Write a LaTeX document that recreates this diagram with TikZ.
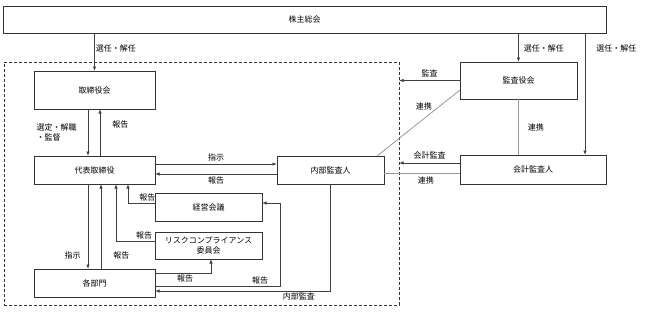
\documentclass[tikz,border=0pt]{standalone}
\usepackage{fontspec}
\setmainfont{Noto Sans CJK JP}
\usepackage{tikz}
\usetikzlibrary{arrows.meta, positioning}

\begin{document}
\begin{tikzpicture}[x=1pt, y=-1pt,
  font=\fontsize{8}{10}\selectfont,
  box/.style={rectangle, draw=black!80, line width=0.8pt, outer sep=0pt,
              text centered, align=center},
  arrow/.style={-{Latex[length=4.5pt,width=3.5pt]}, draw=black!75, line width=0.8pt},
  link/.style={draw=black!40, line width=0.8pt},
  lbl/.style={inner sep=1pt}
]
\useasboundingbox (0,0) rectangle (645,311);
\node[draw=black!80, densely dashed, line width=0.6pt, minimum width=395pt, minimum height=243pt,
      outer sep=0pt] (grp) at (201.5,183.5) {};
\node[box, minimum width=603pt, minimum height=27pt] (agm)   at (304.5,19.5) {株主総会};
\node[box, minimum width=121pt, minimum height=38pt] (board) at (94.5,90)    {取締役会};
\node[box, minimum width=121pt, minimum height=28pt] (ceo)   at (94.5,170)   {代表取締役};
\node[box, minimum width=107pt, minimum height=28pt] (ia)    at (330.5,170)  {内部監査人};
\node[box, minimum width=117pt, minimum height=37pt] (asb)   at (518.5,80.5) {監査役会};
\node[box, minimum width=146pt, minimum height=29pt] (cpa)   at (533,169.5)  {会計監査人};
\node[box, minimum width=107pt, minimum height=28pt] (mtg)   at (208.5,207)  {経営会議};
\node[box, minimum width=107pt, minimum height=27pt] (rcc)   at (208.5,245.5){リスクコンプライアンス\\委員会};
\node[box, minimum width=121pt, minimum height=28pt] (dept)  at (94.5,283)   {各部門};
\coordinate (cpain) at ([xshift=52pt]cpa.north);

% shareholders
\draw[arrow] (agm.south -| board) -- node[lbl, right, pos=.42]{選任・解任} (board.north);
\draw[arrow] (agm.south -| asb)   -- node[lbl, right, pos=.55, xshift=4pt]{選任・解任} (asb.north);
\draw[arrow] (agm.south -| cpain) -- node[lbl, right, pos=.13, xshift=10pt]{選任・解任} (cpain);

% board and ceo
\draw[arrow] ([xshift=-6.5pt]board.south) -- node[lbl, left, xshift=-10pt, align=left]{選定・解職\\・監督} ([xshift=-6.5pt]ceo.north);
\draw[arrow] ([xshift=5.5pt]ceo.north) -- node[lbl, right, pos=.68, xshift=11pt]{報告} ([xshift=5.5pt]board.south);
\draw[arrow] ([yshift=6pt]ceo.east) -- node[lbl, above, yshift=1pt]{指示} ([yshift=6pt]ia.west);
\draw[arrow] ([yshift=-4pt]ia.west) -- node[lbl, below, yshift=-1pt]{報告} ([yshift=-4pt]ceo.east);

% auditors
\draw[arrow] (asb.west) -- node[lbl, above, yshift=2pt]{監査} (asb.west -| grp.east);
\draw[arrow] ([yshift=6.5pt]cpa.west) -- node[lbl, above, yshift=2pt]{会計監査} ([yshift=6.5pt]cpa.west -| grp.east);
\draw[link] ([yshift=-9.5pt]asb.west) -- node[lbl, left, pos=.25, xshift=-6pt]{連携} ([xshift=46.5pt]ia.north);
\draw[link] (asb.south) -- node[lbl, right, xshift=8pt]{連携} (asb.south |- cpa.north);
\draw[link] ([yshift=-3pt]ia.east) -- node[lbl, below, pos=.55, yshift=-2pt]{連携} ([yshift=-3pt]ia.east -| cpa.west);

% ceo and departments
\draw[arrow] ([xshift=-6.5pt]ceo.south) -- node[lbl, left, pos=.84, xshift=-6pt]{指示} ([xshift=-6.5pt]dept.north);
\draw[arrow] ([xshift=6.5pt]dept.north) -- node[lbl, right, pos=.16, xshift=11pt]{報告} ([xshift=6.5pt]ceo.south);
\draw[arrow] ([yshift=4pt]mtg.west) -| node[lbl, above, pos=.14]{報告} ([xshift=33.5pt]ceo.south);
\draw[arrow] ([yshift=4.5pt]rcc.west) -| node[lbl, above, pos=.14]{報告} ([xshift=21.5pt]ceo.south);
\draw[arrow] ([yshift=10pt]dept.east) -| node[lbl, below, pos=.27]{報告} ([xshift=2.5pt]rcc.south);
\draw[arrow] ([yshift=-3pt]dept.east) -| node[lbl, above, pos=.42]{報告} ([xshift=18pt,yshift=4pt]mtg.east) -- ([yshift=4pt]mtg.east);
\draw[arrow] (ia.south) |- node[lbl, below, pos=.59]{内部監査} ([yshift=-8pt]dept.east);
\end{tikzpicture}
\end{document}
